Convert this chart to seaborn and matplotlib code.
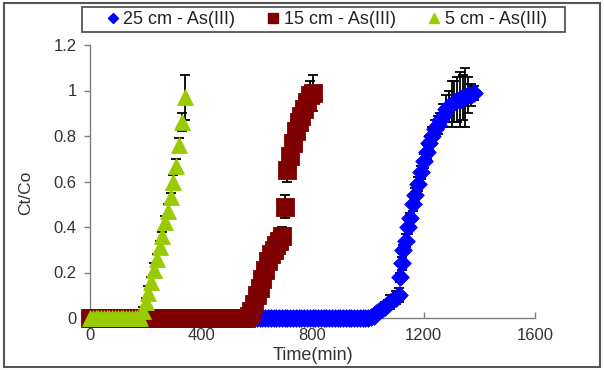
import matplotlib
matplotlib.use("Agg")
import matplotlib.pyplot as plt
import seaborn as sns
from matplotlib.lines import Line2D
from matplotlib.patches import Rectangle

sns.set_theme(style="white")
plt.rcParams['font.family'] = ['Liberation Sans', 'DejaVu Sans']

# ---------------- data ----------------
labels = ["25 cm - As(III)", "15 cm - As(III)", "5 cm - As(III)"]
colors = ["#0000FF", "#7F0000", "#99CC00"]

# 25 cm
t25 = [0, 10, 20, 30, 40, 50, 60, 70, 80, 90, 100, 110, 120, 130, 140, 150,
       160, 170, 180, 190, 200, 210, 220, 230, 240, 250, 260, 270, 280, 290,
       300, 310, 320, 330, 340, 350, 360, 370, 380, 390, 400, 410, 420, 430,
       440, 450, 460, 470, 480, 490, 500, 510, 520, 530, 540, 550, 560, 570,
       580, 590, 600, 610, 620, 630, 640, 650, 660, 670, 680, 690, 700, 710,
       720, 730, 740, 750, 760, 770, 780, 790, 800, 810, 820, 830, 840, 850,
       860, 870, 880, 890, 900, 910, 920, 930, 940, 950, 960, 970, 980, 990,
       1000,
       1010, 1020, 1030, 1040, 1050, 1060, 1070, 1080, 1090, 1100, 1110, 1115,
       1120, 1125, 1135, 1145, 1150, 1160, 1170, 1180, 1190, 1200, 1210, 1220,
       1230, 1240, 1250, 1260, 1270, 1280, 1290, 1300, 1310, 1320, 1330, 1340,
       1350, 1360, 1370, 1380]
c25 = [0, 0, 0, 0, 0, 0, 0, 0, 0, 0, 0, 0, 0, 0, 0, 0,
       0, 0, 0, 0, 0, 0, 0, 0, 0, 0, 0, 0, 0, 0,
       0, 0, 0, 0, 0, 0, 0, 0, 0, 0, 0, 0, 0, 0,
       0, 0, 0, 0, 0, 0, 0, 0, 0, 0, 0, 0, 0, 0,
       0, 0, 0, 0, 0, 0, 0, 0, 0, 0, 0, 0, 0, 0,
       0, 0, 0, 0, 0, 0, 0, 0, 0, 0, 0, 0, 0, 0,
       0, 0, 0, 0, 0, 0, 0, 0, 0, 0, 0, 0, 0, 0,
       0,
       0.005, 0.01, 0.02, 0.03, 0.04, 0.05, 0.06, 0.07, 0.08, 0.09, 0.10, 0.18,
       0.24, 0.30, 0.34, 0.40, 0.44, 0.50, 0.54, 0.59, 0.64, 0.69, 0.73, 0.77,
       0.80, 0.83, 0.85, 0.87, 0.89, 0.92, 0.93, 0.94, 0.95, 0.96, 0.96, 0.97,
       0.97, 0.98, 0.98, 0.99]
# error bars for the rising part of 25 cm (last points)
e25 = [0.01, 0.01, 0.01, 0.02, 0.01, 0.02, 0.02, 0.03, 0.02, 0.03, 0.03, 0.02,
       0.03, 0.02, 0.03, 0.03, 0.02, 0.03, 0.03, 0.03, 0.03, 0.03, 0.03, 0.03,
       0.04, 0.04, 0.04, 0.03, 0.05, 0.06, 0.07, 0.10, 0.09, 0.10, 0.12, 0.10,
       0.13, 0.08, 0.05, 0.03]

# 15 cm
t15 = [0, 10, 20, 30, 40, 50, 60, 70, 80, 90, 100, 110, 120, 130, 140, 150,
       160, 170, 180, 190, 200, 210, 220, 230, 240, 250, 260, 270, 280, 290,
       300, 310, 320, 330, 340, 350, 360, 370, 380, 390, 400, 410, 420, 430,
       440, 450, 460, 470, 480, 490, 500, 510, 520, 530, 540, 550, 560,
       570, 580, 590, 600, 610, 620, 630, 640, 650, 660, 670, 680, 690, 700,
       710, 720, 730, 740, 750, 760, 770, 780, 790, 800]
c15 = [0, 0, 0, 0, 0, 0, 0, 0, 0, 0, 0, 0, 0, 0, 0, 0,
       0, 0, 0, 0, 0, 0, 0, 0, 0, 0, 0, 0, 0, 0,
       0, 0, 0, 0, 0, 0, 0, 0, 0, 0, 0, 0, 0, 0,
       0, 0, 0, 0, 0, 0, 0, 0, 0, 0, 0, 0, 0,
       0.01, 0.03, 0.06, 0.10, 0.13, 0.17, 0.21, 0.25, 0.28, 0.30, 0.32, 0.34,
       0.36, 0.49, 0.65, 0.71, 0.77, 0.82, 0.86, 0.89, 0.92, 0.95, 0.98, 0.99]
e15 = [0.02, 0.02, 0.03, 0.02, 0.03, 0.02, 0.03, 0.03, 0.02, 0.03, 0.03, 0.03,
       0.04, 0.05, 0.05, 0.03, 0.04, 0.04, 0.03, 0.04, 0.05, 0.05, 0.06, 0.08]

# 5 cm
t5 = [0, 10, 20, 30, 40, 50, 60, 70, 80, 90, 100, 110, 120, 130, 140, 150,
      160, 170, 180,
      190, 200, 210, 220, 230, 240, 250, 260, 270, 280, 290, 300, 310, 320,
      330, 340]
c5 = [0, 0, 0, 0, 0, 0, 0, 0, 0, 0, 0, 0, 0, 0, 0, 0,
      0, 0, 0,
      0.03, 0.07, 0.11, 0.16, 0.21, 0.26, 0.31, 0.36, 0.42, 0.47, 0.53, 0.60,
      0.67, 0.76, 0.86, 0.97]
e5 = [0.02, 0.02, 0.03, 0.02, 0.03, 0.02, 0.03, 0.02, 0.03, 0.03, 0.02, 0.03,
      0.03, 0.03, 0.04, 0.10]

xticks = [0, 400, 800, 1200, 1600]
yticks = [0, 0.2, 0.4, 0.6, 0.8, 1.0, 1.2]
ytick_labels = ["0", "0.2", "0.4", "0.6", "0.8", "1", "1.2"]

# ---------------- figure ----------------
fig = plt.figure(figsize=(6.04, 3.70), dpi=100)
ax = fig.add_axes([90 / 604, 1 - 318 / 370, 445 / 604, 273 / 370])

series = [
    (t25, c25, e25, "D", 80, 2),
    (t15, c15, e15, "s", 150, 4),
    (t5, c5, e5, "^", 130, 6),
]
for (t, c, e, m, s, z), col in zip(series, colors):
    n = len(e)
    ax.errorbar(t[-n:], c[-n:], yerr=e, fmt="none", ecolor="black",
                elinewidth=1.3, capsize=3.5, capthick=1.3, zorder=z,
                clip_on=False)
    sns.scatterplot(x=t, y=c, color=col, marker=m, s=s, linewidth=0.6,
                    edgecolor=col, ax=ax, zorder=z + 1, clip_on=False)

ax.set_xlim(0, 1600)
ax.set_ylim(0, 1.2)
ax.set_xticks(xticks)
ax.set_xticklabels([str(v) for v in xticks])
ax.set_yticks(yticks)
ax.set_yticklabels(ytick_labels)

for side in ["top", "right"]:
    ax.spines[side].set_visible(False)
for side in ["left", "bottom"]:
    ax.spines[side].set_color("#7f7f7f")
    ax.spines[side].set_linewidth(1.0)

ax.tick_params(axis="y", direction="out", length=4, width=1, color="#7f7f7f",
               labelsize=12, labelcolor="#333333", pad=5.5, left=True)
ax.tick_params(axis="x", direction="in", length=4, width=1, color="#7f7f7f",
               labelsize=12, labelcolor="#333333", pad=7, bottom=True)

ax.set_xlabel("Time(min)", fontsize=13, color="#333333")
ax.set_ylabel("Ct/Co", fontsize=12.5, color="#333333")
ax.xaxis.set_label_coords(0.5, -0.106)
ax.yaxis.set_label_coords(-0.128, 0.46)
ax.set_facecolor("white")

# legend (frame drawn separately so its size can match the reference)
handles = [Line2D([], [], ls="none", marker=m, color=col, markersize=ms)
           for m, col, ms in zip(["D", "s", "^"], colors, [5, 7, 7])]
leg = fig.legend(handles, labels, loc="center", ncol=3,
                 bbox_to_anchor=(327 / 604, 1 - 19.5 / 370), frameon=False,
                 fontsize=13, handlelength=0.6, handletextpad=0.3,
                 columnspacing=1.8, borderpad=0, borderaxespad=0)
for txt in leg.get_texts():
    txt.set_color("#222222")
fig.patches.append(Rectangle((82 / 604, 1 - 32 / 370), 483 / 604, 25 / 370,
                             transform=fig.transFigure, fill=False,
                             edgecolor="#555555", linewidth=1.3))

fig.patches.append(Rectangle((4 / 604, 3 / 370), 596 / 604, 364 / 370,
                             transform=fig.transFigure, fill=False,
                             edgecolor="#555555", linewidth=1.5))

fig.savefig("out.png", dpi=100, facecolor="white")
